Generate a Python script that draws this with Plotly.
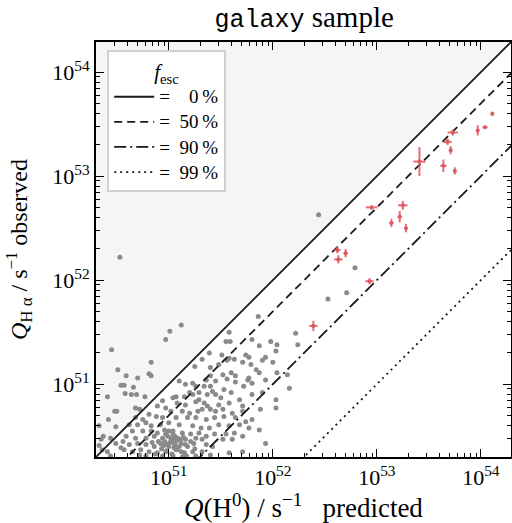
import numpy as np
import plotly.graph_objects as go

# ---- data (log10 units) ----
f_esc_pct = [0, 50, 90, 99]
f_esc_dash = ["solid", "8px,5px", "12px,4px,2px,4px", "2px,4px"]

gray_logx = [
    50.53, 51.12, 51.01, 52.44, 52.79, 52.71, 52.53, 51.86, 51.58, 52.22,
    50.45, 50.97, 50.83, 50.51, 50.59, 50.81, 50.83, 50.70, 50.54, 50.57, 50.66, 50.41, 50.58, 50.64, 50.69,
    50.77, 50.50, 50.48, 50.42, 50.68, 50.72, 50.33, 50.49, 50.37, 50.35, 50.44, 50.33, 50.36, 50.41,
    51.55, 51.59, 51.80, 51.98, 52.04, 51.87, 51.39, 51.51, 51.58, 51.56, 51.74, 51.77, 51.93, 52.03, 52.24,
    51.32, 51.63, 51.25, 51.40, 51.48, 51.71, 51.79, 51.84, 51.90, 52.00, 51.60, 51.52, 51.40, 51.64, 51.77,
    51.87, 52.04, 52.14, 51.10, 51.23, 51.36, 51.45, 51.56, 51.64, 51.76, 51.80, 51.93, 51.16, 51.26, 51.34,
    51.40, 51.42, 51.53, 51.72, 51.20, 51.29, 51.37, 51.45, 51.60, 51.07, 51.15, 51.23, 51.29, 51.50, 51.68,
    51.80, 51.90, 52.03, 52.16, 50.94, 51.04, 51.08, 51.16, 51.26, 51.34, 51.37, 51.40, 51.48, 51.58, 51.71,
    51.88, 52.03, 50.89, 50.97, 51.02, 51.13, 51.20, 51.28, 51.32, 51.45, 51.52, 51.61, 51.71, 51.80, 50.81,
    50.88, 50.94, 51.07, 51.18, 51.26, 51.36, 51.44, 51.53, 51.64, 51.74, 50.68, 50.75, 50.62, 50.70, 50.78,
    50.83, 50.92, 51.00, 51.10, 51.23, 51.31, 51.39, 51.48, 51.58, 51.68, 51.77, 51.87, 50.65, 50.75, 50.83,
    50.89, 50.96, 51.04, 51.13, 51.21, 51.29, 51.36, 51.44, 51.55, 51.63, 51.71, 50.59, 50.68, 50.78, 50.86,
    50.94, 51.02, 51.07, 51.16, 51.26, 51.32, 51.52, 51.61, 50.49, 50.56, 50.62, 50.70, 50.78, 50.86, 50.92,
    50.99, 51.05, 51.10, 51.16, 51.24, 51.36, 51.42, 50.57, 50.65, 50.73, 50.81, 50.89, 50.97, 51.07, 51.15,
    51.23, 51.32, 51.40, 50.54, 50.78, 50.94, 51.04, 51.26, 51.58, 51.71, 51.93, 50.44, 50.72, 51.13,
    50.99, 51.03, 51.07, 51.04, 51.09, 50.96, 51.12, 51.00, 51.05,
    50.98, 51.01, 51.06, 51.11, 50.93, 51.03, 51.08, 50.97, 51.14, 51.18, 50.90, 51.06, 51.12, 50.95, 51.21,
    50.87, 51.17, 51.00, 51.25, 50.84]
gray_logy = [
    52.22, 51.57, 51.51, 52.63, 52.12, 51.88, 51.82, 51.65, 51.50, 51.49,
    51.33, 51.43, 51.21, 51.14, 51.08, 51.10, 51.08, 51.06, 50.99, 50.99, 50.97, 50.88, 50.91, 50.90, 50.90,
    50.88, 50.74, 50.74, 50.66, 50.77, 50.76, 50.60, 50.59, 50.50, 50.47, 50.48, 50.41, 50.37, 50.35,
    51.41, 51.41, 51.43, 51.41, 51.38, 51.37, 51.30, 51.28, 51.25, 51.23, 51.28, 51.26, 51.26, 51.32, 51.38,
    51.24, 51.24, 51.17, 51.16, 51.19, 51.21, 51.19, 51.14, 51.23, 51.21, 51.11, 51.09, 51.08, 51.08, 51.06,
    51.11, 51.11, 51.09, 51.03, 51.01, 51.04, 51.03, 51.05, 51.02, 51.04, 51.01, 51.04, 51.00, 50.98, 50.98,
    50.98, 50.93, 50.95, 50.98, 50.92, 50.92, 50.90, 50.90, 50.92, 50.88, 50.88, 50.90, 50.85, 50.87, 50.85,
    50.90, 50.92, 50.85, 50.96, 50.84, 50.87, 50.82, 50.80, 50.83, 50.82, 50.79, 50.76, 50.80, 50.82, 50.79,
    50.76, 50.77, 50.79, 50.77, 50.74, 50.74, 50.72, 50.74, 50.76, 50.74, 50.76, 50.72, 50.74, 50.66, 50.71,
    50.69, 50.68, 50.68, 50.68, 50.68, 50.66, 50.68, 50.69, 50.68, 50.64, 50.68, 50.66, 50.61, 50.61, 50.63,
    50.60, 50.61, 50.63, 50.61, 50.60, 50.58, 50.58, 50.61, 50.60, 50.61, 50.58, 50.56, 50.55, 50.55, 50.55,
    50.53, 50.56, 50.55, 50.53, 50.52, 50.53, 50.50, 50.52, 50.52, 50.53, 50.50, 50.50, 50.48, 50.48, 50.50,
    50.48, 50.48, 50.47, 50.47, 50.48, 50.47, 50.47, 50.47, 50.43, 50.45, 50.42, 50.43, 50.42, 50.40, 50.43,
    50.42, 50.43, 50.40, 50.42, 50.43, 50.42, 50.40, 50.37, 50.35, 50.37, 50.35, 50.34, 50.35, 50.37, 50.34,
    50.35, 50.35, 50.32, 50.39, 50.31, 50.31, 50.31, 50.31, 50.34, 50.35, 50.43, 50.31, 50.32, 50.30,
    50.50, 50.47, 50.45, 50.52, 50.48, 50.45, 50.43, 50.40, 50.39,
    50.36, 50.44, 50.50, 50.46, 50.38, 50.33, 50.37, 50.52, 50.49, 50.40, 50.45, 50.41, 50.35, 50.41, 50.45,
    50.33, 50.31, 50.55, 50.38, 50.44]

red_logx = [53.41, 52.95, 53.25, 53.22, 53.14, 53.28, 52.62, 52.63, 52.70, 52.93, 53.64, 53.75, 53.68, 53.71, 53.73,
            53.97, 54.04, 54.11, 52.39]
red_logy = [53.14, 52.70, 52.72, 52.61, 52.55, 52.50, 52.29, 52.20, 52.26, 51.99, 53.10, 53.05, 53.33, 53.25, 53.42,
            53.44, 53.47, 53.60, 51.56]
red_errx = [0.06, 0.056, 0.045, 0.02, 0.02, 0.01, 0.03, 0.04, 0.02, 0.04, 0.03, 0.015, 0.04, 0.015, 0.05,
            0.01, 0.025, 0.01, 0.04]
red_erry = [0.14, 0.02, 0.043, 0.055, 0.04, 0.04, 0.03, 0.04, 0.04, 0.03, 0.06, 0.035, 0.03, 0.04, 0.03,
            0.05, 0.01, 0.02, 0.05]

axis_log_range = [50.3, 54.29]
tick_decades = [51, 52, 53, 54]

SERIF = "Liberation Serif"
fig = go.Figure()

lo, hi = 10.0 ** (axis_log_range[0] - 1), 10.0 ** (axis_log_range[1] + 1)
# shaded region above 1:1
fig.add_trace(go.Scatter(x=[lo, hi, lo, lo], y=[lo, hi, hi, lo], fill="toself", mode="none",
                         fillcolor="#f5f5f5", showlegend=False, hoverinfo="skip"))

# gray sample points
gx = 10.0 ** np.array(gray_logx)
gy = 10.0 ** np.array(gray_logy)
fig.add_trace(go.Scatter(x=gx, y=gy, mode="markers", marker=dict(color="#8a8a8a", size=5),
                         showlegend=False))


def legend_label(f):
    num = ("\u2007" + str(f)) if f < 10 else str(f)
    return "<span style='font-size:19px'>=\u2002" + num + "\u2009%</span>"


# f_esc lines
for f, d in zip(f_esc_pct, f_esc_dash):
    xs = np.array([lo, hi])
    fig.add_trace(go.Scatter(x=xs, y=xs * (1 - f / 100), mode="lines",
                             line=dict(color="#1a1a1a", width=1.8, dash=d),
                             name=legend_label(f)))

# red points with error bars
rx = 10.0 ** np.array(red_logx)
ry = 10.0 ** np.array(red_logy)
ex = np.array(red_errx)
ey = np.array(red_erry)
fig.add_trace(go.Scatter(
    x=rx, y=ry, mode="markers",
    marker=dict(color="#e0575e", size=4),
    error_x=dict(type="data", symmetric=False, array=rx * (10 ** ex - 1), arrayminus=rx * (1 - 10 ** -ex),
                 color="rgba(224,87,94,0.85)", thickness=2, width=0),
    error_y=dict(type="data", symmetric=False, array=ry * (10 ** ey - 1), arrayminus=ry * (1 - 10 ** -ey),
                 color="rgba(224,87,94,0.85)", thickness=2, width=0),
    showlegend=False))

axis_common = dict(type="log", range=axis_log_range, tickmode="array",
                   tickvals=[10.0 ** d for d in tick_decades],
                   ticktext=["10<sup>%d</sup>" % d for d in tick_decades],
                   ticks="inside", ticklen=8, tickwidth=1.2, tickcolor="black",
                   showline=True, linecolor="black", linewidth=1.8, mirror="allticks",
                   showgrid=False, zeroline=False, automargin=False,
                   minor=dict(ticks="inside", ticklen=4, tickwidth=1, tickcolor="black", dtick="D1", showgrid=False),
                   tickfont=dict(family=SERIF, size=22, color="black"))

fig.update_xaxes(**axis_common,
                 title=dict(text="<i>Q</i>(H<sup>0</sup>) / s<sup>\u22121</sup>\u2002 predicted",
                            font=dict(family=SERIF, size=27, color="black"), standoff=4))
fig.update_yaxes(**axis_common,
                 title=dict(text="<i>Q</i><sub>H \u03b1</sub> / s<sup>\u22121</sup> observed",
                            font=dict(family=SERIF, size=24, color="black"), standoff=18))

fig.update_layout(
    width=512, height=523, autosize=False,
    margin=dict(l=96, r=1, t=42, b=66, autoexpand=False),
    plot_bgcolor="white", paper_bgcolor="white",
    title=dict(text="<span style='font-family:Liberation Mono;font-size:25px'>galaxy</span> sample",
               x=0.594, xanchor="center", y=0.968, yanchor="middle",
               font=dict(family=SERIF, size=29, color="black")),
    legend=dict(x=0.027, y=0.981, xanchor="left", yanchor="top",
                bgcolor="white", bordercolor="#d0d0d0", borderwidth=2,
                font=dict(family=SERIF, size=17, color="black"),
                title=dict(text="<i>f</i><sub>esc</sub>", side="top center",
                           font=dict(family=SERIF, size=21, color="black")),
                itemwidth=40, tracegroupgap=0),
    showlegend=True,
)

fig.write_html("out.html", config={"responsive": False},
               post_script="document.documentElement.style.overflow='hidden';document.body.style.overflow='hidden';document.body.style.margin='0';")
